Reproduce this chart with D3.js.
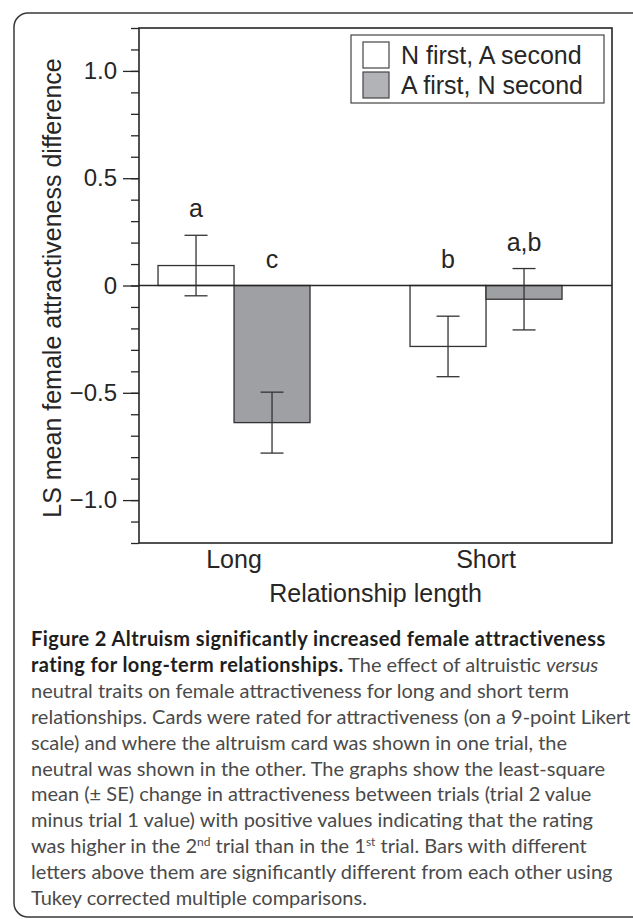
<html>
  <head>
    <script src="https://d3js.org/d3.v7.min.js"></script>
    <style>
      body { margin: 0; background: #fff; }
    </style>
  </head>
  <body>
    <div id="vis"></div>
  </body>
  <script>
    // Data
    var categories = ["Long", "Short"]
    var seriesNames = ["N first, A second", "A first, N second"]
    var nFirstMeans = [0.093, -0.284]
    var aFirstMeans = [-0.639, -0.064]
    var nFirstSE = [0.141, 0.141]
    var aFirstSE = [0.142, 0.143]
    var nFirstLetters = ["a", "b"]
    var aFirstLetters = ["c", "a,b"]
    var yMajorTicks = [-1.0, -0.5, 0, 0.5, 1.0]
    var yMajorLabels = ["\u22121.0", "\u22120.5", "0", "0.5", "1.0"]

    var captionLines = [
      [{t: "Figure 2 Altruism significantly increased female attractiveness", b: true}],
      [{t: "rating for long-term relationships.", b: true}, {t: " The effect of altruistic "}, {t: "versus", i: true}],
      [{t: "neutral traits on female attractiveness for long and short term"}],
      [{t: "relationships. Cards were rated for attractiveness (on a 9-point Likert"}],
      [{t: "scale) and where the altruism card was shown in one trial, the"}],
      [{t: "neutral was shown in the other. The graphs show the least-square"}],
      [{t: "mean (\u00b1 SE) change in attractiveness between trials (trial 2 value"}],
      [{t: "minus trial 1 value) with positive values indicating that the rating"}],
      [{t: "was higher in the 2"}, {t: "nd", sup: true}, {t: " trial than in the 1"}, {t: "st", sup: true}, {t: " trial. Bars with different"}],
      [{t: "letters above them are significantly different from each other using"}],
      [{t: "Tukey corrected multiple comparisons."}]
    ]

    var W = 633, H = 919
    var plot = {left: 139, right: 612, top: 28, bottom: 543}
    var ink = "#262626"
    var font = '"Liberation Sans", Arial, sans-serif'

    var svg = d3.select("#vis")
      .append("svg")
      .attr("width", W)
      .attr("height", H)
      .style("display", "block")

    // rounded frame around the figure (runs off the right edge)
    svg.append("rect")
      .attr("x", 14).attr("y", 13)
      .attr("width", 660).attr("height", 904)
      .attr("rx", 14)
      .attr("fill", "none")
      .attr("stroke", "#3a3a3a")
      .attr("stroke-width", 1.5)

    // scales
    var y = d3.scaleLinear()
      .domain([-1.2, 1.2])
      .range([plot.bottom, plot.top])

    var x = d3.scalePoint()
      .domain(categories)
      .range([plot.left, plot.right])
      .padding(0.4385)
      .align(0.43)

    var barW = x.step() * 0.3016

    // minor ticks
    svg.append("g")
      .attr("transform", "translate(" + plot.left + ",0)")
      .call(d3.axisLeft(y).ticks(24).tickSize(8).tickFormat(""))
      .call(g => g.select(".domain").remove())
      .selectAll("line").attr("stroke", ink).attr("stroke-width", 1.3)

    // major ticks + labels
    var yAxis = svg.append("g")
      .attr("transform", "translate(" + plot.left + ",0)")
      .call(d3.axisLeft(y).tickValues(yMajorTicks).tickSize(16).tickPadding(6)
        .tickFormat((d, i) => yMajorLabels[i]))
    yAxis.select(".domain").remove()
    yAxis.selectAll("line").attr("stroke", ink).attr("stroke-width", 1.3)
    yAxis.selectAll("text")
      .attr("fill", ink)
      .attr("font-family", font)
      .attr("font-size", 24)

    // plot box
    svg.append("rect")
      .attr("x", plot.left).attr("y", plot.top)
      .attr("width", plot.right - plot.left)
      .attr("height", plot.bottom - plot.top)
      .attr("fill", "none")
      .attr("stroke", ink)
      .attr("stroke-width", 1.6)

    // bars
    var rows = categories.map((c, i) => [
      {cat: c, s: 0, v: nFirstMeans[i], se: nFirstSE[i], lab: nFirstLetters[i]},
      {cat: c, s: 1, v: aFirstMeans[i], se: aFirstSE[i], lab: aFirstLetters[i]}
    ]).flat()

    var fills = ["#ffffff", "#9fa0a4"]

    var bx = d => x(d.cat) + (d.s === 0 ? -barW : 0)

    svg.append("g").selectAll("rect")
      .data(rows)
      .join("rect")
      .attr("x", bx)
      .attr("y", d => y(Math.max(0, d.v)))
      .attr("width", barW)
      .attr("height", d => Math.abs(y(d.v) - y(0)))
      .attr("fill", d => fills[d.s])
      .attr("stroke", "#333")
      .attr("stroke-width", 1.3)

    // zero line
    svg.append("line")
      .attr("x1", plot.left).attr("x2", plot.right)
      .attr("y1", y(0)).attr("y2", y(0))
      .attr("stroke", ink)
      .attr("stroke-width", 1.5)

    // error bars
    var cap = 11.5
    var eb = svg.append("g").selectAll("g")
      .data(rows)
      .join("g")
      .attr("stroke", "#333")
      .attr("stroke-width", 1.3)
    eb.append("line")
      .attr("x1", d => bx(d) + barW / 2).attr("x2", d => bx(d) + barW / 2)
      .attr("y1", d => y(d.v + d.se)).attr("y2", d => y(d.v - d.se))
    eb.append("line")
      .attr("x1", d => bx(d) + barW / 2 - cap).attr("x2", d => bx(d) + barW / 2 + cap)
      .attr("y1", d => y(d.v + d.se)).attr("y2", d => y(d.v + d.se))
    eb.append("line")
      .attr("x1", d => bx(d) + barW / 2 - cap).attr("x2", d => bx(d) + barW / 2 + cap)
      .attr("y1", d => y(d.v - d.se)).attr("y2", d => y(d.v - d.se))

    // significance letters
    svg.append("g").selectAll("text")
      .data(rows)
      .join("text")
      .text(d => d.lab)
      .attr("x", d => bx(d) + barW / 2)
      .attr("y", d => y(Math.max(0, d.v + d.se)) - 18)
      .attr("text-anchor", "middle")
      .attr("font-family", font)
      .attr("font-size", 25)
      .attr("fill", ink)

    // category labels
    svg.append("g").selectAll("text")
      .data(categories)
      .join("text")
      .text(d => d)
      .attr("x", d => x(d))
      .attr("y", 568)
      .attr("text-anchor", "middle")
      .attr("font-family", font)
      .attr("font-size", 25)
      .attr("fill", ink)

    svg.append("text")
      .text("Relationship length")
      .attr("x", (plot.left + plot.right) / 2)
      .attr("y", 602)
      .attr("text-anchor", "middle")
      .attr("font-family", font)
      .attr("font-size", 25)
      .attr("fill", ink)

    svg.append("text")
      .text("LS mean female attractiveness difference")
      .attr("transform", "translate(61," + 288 + ") rotate(-90)")
      .attr("text-anchor", "middle")
      .attr("font-family", font)
      .attr("font-size", 25)
      .attr("fill", ink)

    // legend
    var lg = svg.append("g").attr("transform", "translate(351,35)")
    lg.append("rect")
      .attr("width", 253).attr("height", 68)
      .attr("fill", "#fff")
      .attr("stroke", "#444")
      .attr("stroke-width", 1.2)
    seriesNames.forEach((name, i) => {
      lg.append("rect")
        .attr("x", 12).attr("y", 7 + i * 30)
        .attr("width", 26).attr("height", 26)
        .attr("fill", i === 0 ? "#fff" : "#b2b3b7")
        .attr("stroke", "#444")
        .attr("stroke-width", 1.2)
      lg.append("text")
        .text(name)
        .attr("x", 50).attr("y", 29 + i * 30)
        .attr("font-family", font)
        .attr("font-size", 25)
        .attr("fill", ink)
    })

    // caption
    var cap0 = 646, capStep = 25.9
    var capFont = 'Lato, "Open Sans", sans-serif'
    captionLines.forEach((parts, i) => {
      var t = svg.append("text")
        .attr("x", 31)
        .attr("y", cap0 + i * capStep)
        .attr("font-family", capFont)
        .attr("font-size", 20)
        .attr("fill", "#4a4a4a")
      parts.forEach(p => {
        var s = t.append("tspan").text(p.t)
        if (p.b) s.attr("font-weight", "bold").attr("fill", "#1e1e1e").attr("letter-spacing", 0.42)
        if (p.i) s.attr("font-style", "italic")
        if (p.sup) s.attr("font-size", 12).attr("baseline-shift", "super")
      })
    })
  </script>
</html>
